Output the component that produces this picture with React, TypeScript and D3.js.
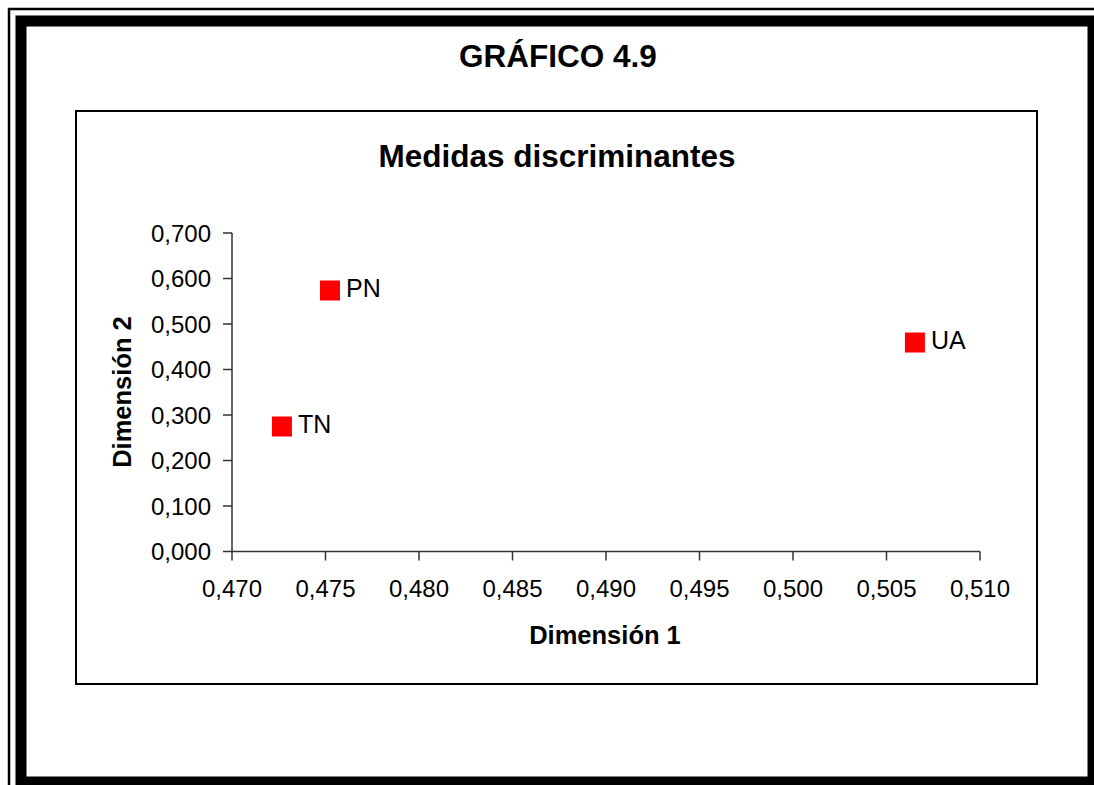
import React from "react";
import * as d3 from "d3";

const pointLabels = ["TN", "PN", "UA"];
const dim1Values = [0.47267, 0.47524, 0.50652];
const dim2Values = [0.2747, 0.5736, 0.4593];
const xTicks = [0.47, 0.475, 0.48, 0.485, 0.49, 0.495, 0.5, 0.505, 0.51];
const yTicks = [0, 0.1, 0.2, 0.3, 0.4, 0.5, 0.6, 0.7];

const W = 1094;
const H = 785;
const font = "'Liberation Sans', Arial, sans-serif";

export default function App() {
  const x = d3.scaleLinear().domain([0.47, 0.51]).range([232, 980]);
  const y = d3.scaleLinear().domain([0, 0.7]).range([551.5, 233]);
  const fmt = (v: number) => d3.format(".3f")(v).replace(".", ",");
  const ms = 20;

  return (
    <svg
      width={W}
      height={H}
      style={{ position: "absolute", left: 0, top: 0, background: "#fff" }}
      fontFamily={font}
    >
      {/* page frame */}
      <rect x={9} y={9} width={1100} height={800} fill="none" stroke="#000" strokeWidth={2.5} />
      <rect x={21} y={21} width={1072} height={761} fill="none" stroke="#000" strokeWidth={11} />
      <text x={558} y={67} textAnchor="middle" fontSize={31.5} fontWeight="bold">
        GRÁFICO 4.9
      </text>
      {/* chart area */}
      <rect x={76} y={111} width={961} height={573} fill="#fff" stroke="#000" strokeWidth={2} />
      <text x={557} y={167} textAnchor="middle" fontSize={31.5} fontWeight="bold">
        Medidas discriminantes
      </text>
      {/* y axis */}
      <line x1={232} x2={232} y1={y(0.7)} y2={y(0)} stroke="#333" strokeWidth={1.5} />
      {yTicks.map((t) => (
        <g key={"y" + t}>
          <line x1={223} x2={232} y1={y(t)} y2={y(t)} stroke="#333" strokeWidth={1.5} />
          <text x={211} y={y(t) + 8.5} textAnchor="end" fontSize={24}>
            {fmt(t)}
          </text>
        </g>
      ))}
      {/* x axis */}
      <line x1={x(0.47)} x2={x(0.51)} y1={y(0)} y2={y(0)} stroke="#333" strokeWidth={1.5} />
      {xTicks.map((t) => (
        <g key={"x" + t}>
          <line x1={x(t)} x2={x(t)} y1={y(0)} y2={y(0) + 9} stroke="#333" strokeWidth={1.5} />
          <text x={x(t)} y={597} textAnchor="middle" fontSize={24}>
            {fmt(t)}
          </text>
        </g>
      ))}
      <text x={605} y={644} textAnchor="middle" fontSize={25.5} fontWeight="bold">
        Dimensión 1
      </text>
      <text
        transform={`translate(131,392) rotate(-90)`}
        textAnchor="middle"
        fontSize={25.5}
        fontWeight="bold"
      >
        Dimensión 2
      </text>
      {/* points */}
      {pointLabels.map((lab, i) => (
        <g key={lab}>
          <rect
            x={x(dim1Values[i]) - ms / 2}
            y={y(dim2Values[i]) - ms / 2}
            width={ms}
            height={ms}
            fill="#ff0000"
          />
          <text x={x(dim1Values[i]) + 16} y={y(dim2Values[i]) + 6} fontSize={25}>
            {lab}
          </text>
        </g>
      ))}
    </svg>
  );
}
